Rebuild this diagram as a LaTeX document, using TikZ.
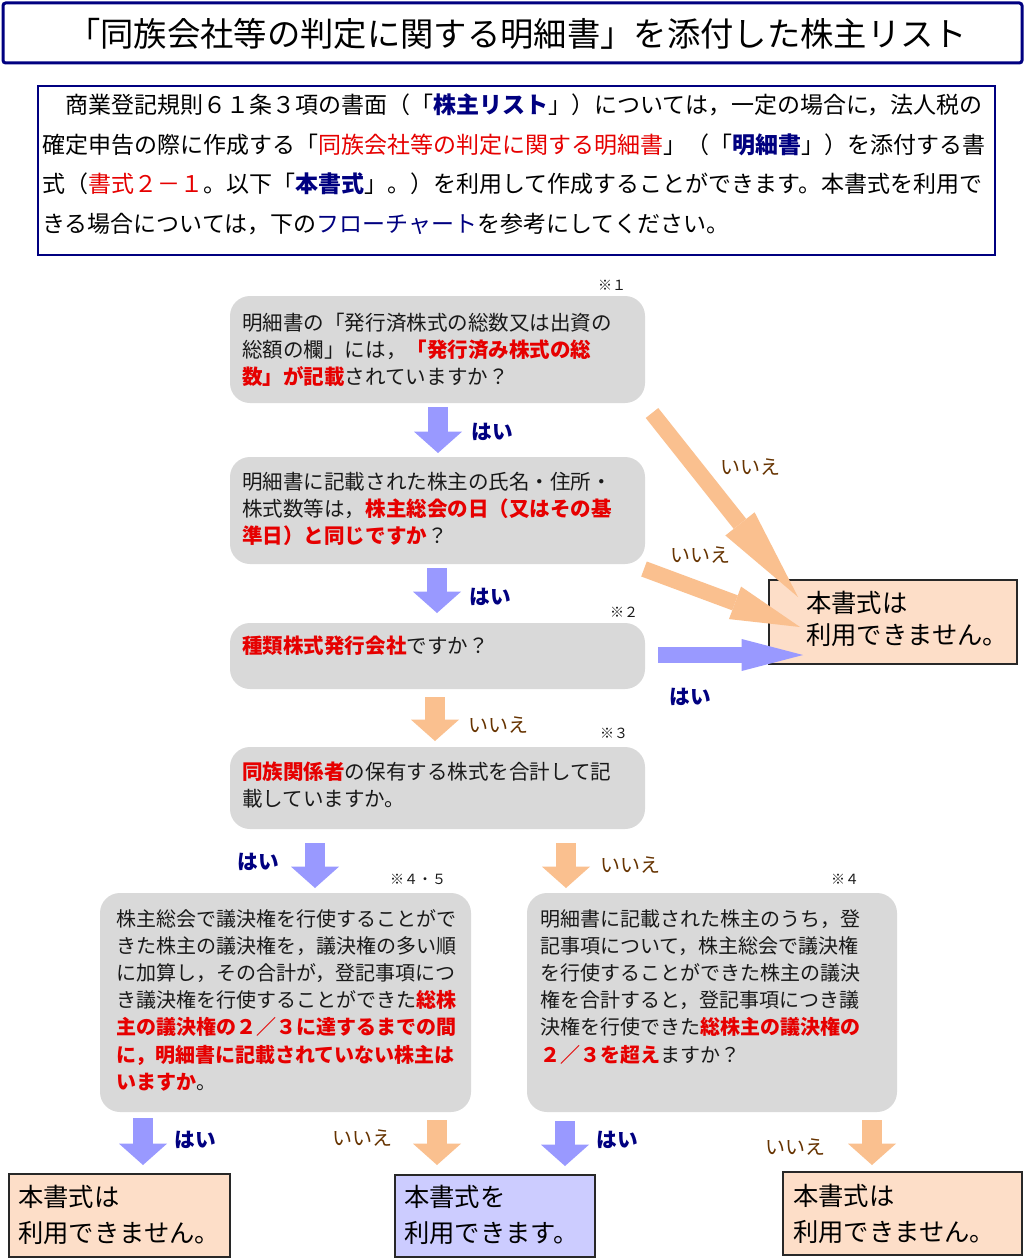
\documentclass[tikz,border=0pt]{standalone}
\usepackage{fontspec}
\setmainfont{Noto Sans CJK JP}
\usetikzlibrary{arrows.meta,fit,calc}
\definecolor{qgray}{RGB}{217,217,217}
\definecolor{arrblue}{RGB}{153,153,255}
\definecolor{arrorange}{RGB}{250,192,143}
\definecolor{peach}{RGB}{253,222,200}
\definecolor{lav}{RGB}{204,204,255}
\definecolor{navy}{RGB}{0,0,128}
\definecolor{brn}{RGB}{102,51,0}
\definecolor{qred}{RGB}{230,0,0}
\definecolor{txt}{RGB}{25,25,25}
\definecolor{rborder}{RGB}{40,40,40}
\newcommand\hl[1]{{\color{qred}\bfseries #1}}
\newcommand\bl[1]{{\color{navy}\bfseries #1}}
\newcommand\rd[1]{{\color{qred}#1}}
\newcommand\lines[1]{\begin{tabular}[t]{@{}l@{}}#1\end{tabular}}
\tikzset{
  qbox/.style={fill=qgray, rounded corners=15pt, inner sep=0pt},
  rbox/.style={draw=rborder, line width=1.1pt, inner sep=0pt},
  qtext/.style={anchor=base west, inner sep=0pt, text=txt, font=\fontsize{15.4pt}{20.3pt}\selectfont},
  btext/.style={anchor=base west, inner sep=0pt, text=txt, font=\fontsize{15pt}{20.4pt}\selectfont},
  rtext/.style={anchor=base west, inner sep=0pt, text=black, font=\fontsize{19pt}{24pt}\selectfont},
  rtextb/.style={anchor=base west, inner sep=0pt, text=black, font=\fontsize{19pt}{27pt}\selectfont},
  yes/.style={inner sep=0pt, text=navy, font=\fontsize{15.5pt}{18pt}\selectfont\bfseries},
  no/.style={inner sep=0pt, text=brn, font=\fontsize{15pt}{18pt}\selectfont},
  note/.style={inner sep=0pt, text=txt, font=\fontsize{10.5pt}{12pt}\selectfont},
  darr/.style={line width=15pt, -{Triangle[width=36pt,length=16pt,line width=0pt]}},
  barr/.style={darr, draw=arrblue},
  oarr/.style={darr, draw=arrorange},
  diagA/.style={line width=12pt, draw=arrorange, -{Triangle[width=28pt,length=70pt,line width=0pt]}},
  diagB/.style={line width=12pt, draw=arrorange, -{Triangle[width=26pt,length=52pt,line width=0pt]}},
  horiz/.style={line width=12pt, draw=arrblue, -{Triangle[width=24pt,length=46pt,line width=0pt]}},
}
\begin{document}
\begin{tikzpicture}[x=0.75pt,y=-0.75pt]
\useasboundingbox (0,0) rectangle (1027,1259);
\fill[white] (0,0) rectangle (1027,1259);

% title
\node[draw=navy, line width=2.25pt, rounded corners=2pt, inner sep=0pt, fit={(3,3)(1022,63)}] (titlebox) {};
\node[anchor=base, inner sep=0pt, text=black, font=\fontsize{25pt}{28pt}\selectfont] (title) at (517,47)
  {「同族会社等の判定に関する明細書」を添付した株主リスト};

% intro
\node[draw=navy, line width=0.8pt, inner sep=0pt, fit={(38,86)(995,255)}] (introbox) {};
\node[anchor=base west, inner sep=0pt, text=black, font=\fontsize{17.25pt}{29.6pt}\selectfont] (intro) at (42,114)
  {\lines{　商業登記規則６１条３項の書面（「\bl{株主リスト}」）については，一定の場合に，法人税の\\
  確定申告の際に作成する「\rd{同族会社等の判定に関する明細書}」（「\bl{明細書}」）を添付する書\\
  式（\rd{書式２－１}。以下「\bl{本書式}」。）を利用して作成することができます。本書式を利用で\\
  きる場合については，下の{\color{navy}フローチャート}を参考にしてください。}};

% question boxes
\node[qbox, fit={(230,296)(645,403)}] (q1) {};
\node[qtext] (q1t) at (242,330) {\lines{明細書の「発行済株式の総数又は出資の\\
  総額の欄」には，\hl{「発行済み株式の総}\\
  \hl{数」が記載}されていますか？}};
\node[note] (n1) at (612,285) {※１};

\node[qbox, fit={(230,457)(645,564)}] (q2) {};
\node[qtext] (q2t) at (242,489) {\lines{明細書に記載された株主の氏名・住所・\\
  株式数等は，\hl{株主総会の日（又はその基}\\
  \hl{準日）と同じですか}？}};

\node[qbox, fit={(230,623)(645,689)}] (q3) {};
\node[qtext] (q3t) at (242,653) {\lines{\hl{種類株式発行会社}ですか？}};
\node[note] (n2) at (624,612) {※２};

\node[qbox, fit={(230,747)(645,829)}] (q4) {};
\node[qtext] (q4t) at (242,779) {\lines{\hl{同族関係者}の保有する株式を合計して記\\
  載していますか。}};
\node[note] (n3) at (614,733) {※３};

\node[qbox, fit={(100,893)(471,1112)}] (q5) {};
\node[btext] (q5t) at (116,926) {\lines{株主総会で議決権を行使することがで\\
  きた株主の議決権を，議決権の多い順\\
  に加算し，その合計が，登記事項につ\\
  き議決権を行使することができた\hl{総株}\\
  \hl{主の議決権の２／３に達するまでの間}\\
  \hl{に，明細書に記載されていない株主は}\\
  \hl{いますか}。}};
\node[note] (n45) at (418,879) {※４・５};

\node[qbox, fit={(527,893)(897,1112)}] (q6) {};
\node[btext] (q6t) at (540,926) {\lines{明細書に記載された株主のうち，登\\
  記事項について，株主総会で議決権\\
  を行使することができた株主の議決\\
  権を合計すると，登記事項につき議\\
  決権を行使できた\hl{総株主の議決権の}\\
  \hl{２／３を超え}ますか？}};
\node[note] (n4) at (845,879) {※４};

% result boxes
\node[rbox, fill=peach, fit={(769,580)(1017,664)}] (r0) {};
\node[rtext] (r0t) at (806,612) {\lines{本書式は\\利用できません。}};

\node[rbox, fill=peach, fit={(9,1174)(230,1257)}] (r1) {};
\node[rtextb] (r1t) at (18,1206) {\lines{本書式は\\利用できません。}};

\node[rbox, fill=lav, fit={(395,1175)(595,1257)}] (r2) {};
\node[rtextb] (r2t) at (404,1206) {\lines{本書式を\\利用できます。}};

\node[rbox, fill=peach, fit={(783,1172)(1022,1255)}] (r3) {};
\node[rtextb] (r3t) at (793,1205) {\lines{本書式は\\利用できません。}};

% arrow end points
\coordinate (a1s) at (438,407);  \coordinate (a1e) at (438,453);
\coordinate (a2s) at (437,568);  \coordinate (a2e) at (437,613);
\coordinate (a3s) at (435,697);  \coordinate (a3e) at (435,741);
\coordinate (a4s) at (315,843);  \coordinate (a4e) at (315,888);
\coordinate (a5s) at (566,843);  \coordinate (a5e) at (566,888);
\coordinate (b1s) at (143,1118); \coordinate (b1e) at (143,1165);
\coordinate (b2s) at (437,1120); \coordinate (b2e) at (437,1165);
\coordinate (b3s) at (565,1121); \coordinate (b3e) at (565,1166);
\coordinate (b4s) at (872,1120); \coordinate (b4e) at (872,1165);
\coordinate (d1s) at (652,413);  \coordinate (d1e) at (798,597);
\coordinate (d2s) at (644,569);  \coordinate (d2e) at (800,627);
\coordinate (hs) at (658,655);   \coordinate (he) at (803,655);

\draw[barr] (a1s) -- (a1e);
\draw[barr] (a2s) -- (a2e);
\draw[oarr] (a3s) -- (a3e);
\draw[barr] (a4s) -- (a4e);
\draw[oarr] (a5s) -- (a5e);
\draw[barr] (b1s) -- (b1e);
\draw[oarr] (b2s) -- (b2e);
\draw[barr] (b3s) -- (b3e);
\draw[oarr] (b4s) -- (b4e);
\draw[diagA] (d1s) -- (d1e);
\draw[diagB] (d2s) -- (d2e);
\draw[horiz] (hs) -- (he);

% labels
\node[yes] (l1) at (492,432) {はい};
\node[yes] (l2) at (490,597) {はい};
\node[no]  (l3) at (498,725) {いいえ};
\node[yes] (l4) at (258,862) {はい};
\node[no]  (l5) at (630,865) {いいえ};
\node[yes] (l6) at (690,697) {はい};
\node[no]  (l7) at (750,467) {いいえ};
\node[no]  (l8) at (700,555) {いいえ};
\node[yes] (l9) at (195,1140) {はい};
\node[no]  (l10) at (362,1138) {いいえ};
\node[yes] (l11) at (617,1140) {はい};
\node[no]  (l12) at (795,1147) {いいえ};
\end{tikzpicture}
\end{document}
